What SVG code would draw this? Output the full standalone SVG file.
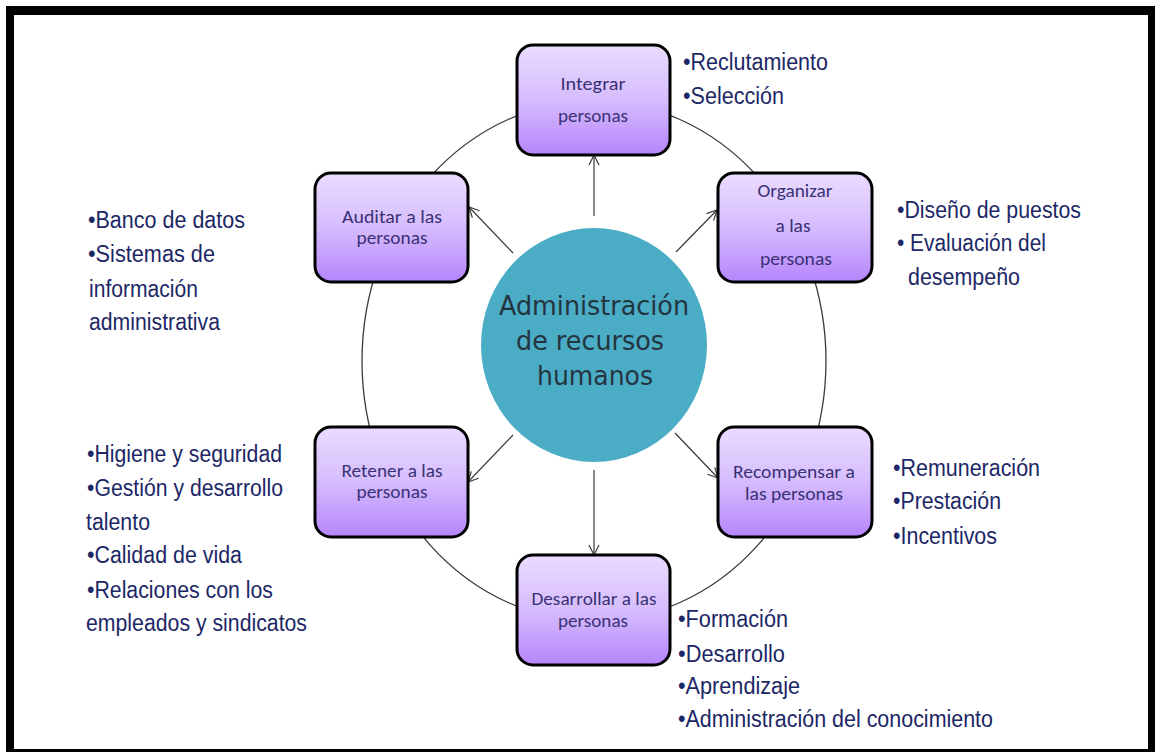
<svg xmlns="http://www.w3.org/2000/svg" width="1155" height="752" viewBox="0 0 1155 752">
  <defs>
    <linearGradient id="nodeFill" x1="0" y1="0" x2="0" y2="1">
      <stop offset="0" stop-color="#EADCFF"/>
      <stop offset="0.5" stop-color="#D6BCFE"/>
      <stop offset="1" stop-color="#B585FC"/>
    </linearGradient>
    <marker id="arrow" markerUnits="userSpaceOnUse" markerWidth="14" markerHeight="14" refX="11" refY="6" orient="auto">
      <path d="M1,1 L11,6 L1,11" fill="none" stroke="#3a3a3a" stroke-width="1.2"/>
    </marker>
    <style>
      .node rect { fill: url(#nodeFill); stroke: #000; stroke-width: 3; }
      .node text { font-family: Carlito, Lato, "Open Sans", sans-serif; font-size: 18.5px; fill: #3A3175; text-anchor: middle; }
      .list text { font-family: "Liberation Sans", Arial, sans-serif; font-size: 23px; fill: #1C2766; }
      .ring { fill: none; stroke: #3a3a3a; stroke-width: 1.3; }
      .conn line { stroke: #3a3a3a; stroke-width: 1.2; marker-end: url(#arrow); }
      .hub text { font-family: "DejaVu Sans", Verdana, sans-serif; font-size: 26px; fill: #24343E; text-anchor: middle; }
    </style>
  </defs>

  <!-- page frame -->
  <rect x="0" y="0" width="1155" height="752" fill="#fff"/>
  <rect x="6" y="6" width="1149" height="746" fill="#000"/>
  <rect x="14" y="15" width="1134" height="734" fill="#fff"/>

  <!-- connectors: outer cycle and spokes -->
  <g id="connectors">
    <ellipse class="ring" cx="594" cy="361" rx="232" ry="260"/>
    <g class="conn">
      <line x1="594" y1="216" x2="594" y2="155"/>
      <line x1="676" y1="252" x2="717" y2="210"/>
      <line x1="675" y1="433" x2="718" y2="478"/>
      <line x1="594" y1="470" x2="594" y2="555"/>
      <line x1="513" y1="435" x2="468" y2="482"/>
      <line x1="513" y1="253" x2="469" y2="207"/>
    </g>
  </g>

  <!-- central hub -->
  <g id="hub" class="hub">
    <ellipse cx="594" cy="345" rx="113" ry="117" fill="#4BACC6"/>
    <text x="594" y="315" textLength="190" lengthAdjust="spacingAndGlyphs">Administración</text>
    <text x="590" y="350" textLength="148" lengthAdjust="spacingAndGlyphs">de recursos</text>
    <text x="595" y="385" textLength="116" lengthAdjust="spacingAndGlyphs">humanos</text>
  </g>

  <!-- process nodes -->
  <g id="integrar" class="node">
    <rect x="517" y="45" width="153" height="110" rx="16"/>
    <text x="593" y="90" textLength="65" lengthAdjust="spacingAndGlyphs">Integrar</text>
    <text x="593" y="122" textLength="70" lengthAdjust="spacingAndGlyphs">personas</text>
  </g>
  <g id="organizar" class="node">
    <rect x="718" y="173" width="154" height="109" rx="16"/>
    <text x="795" y="197" textLength="75" lengthAdjust="spacingAndGlyphs">Organizar</text>
    <text x="793" y="232" textLength="35" lengthAdjust="spacingAndGlyphs">a las</text>
    <text x="796" y="265" textLength="72" lengthAdjust="spacingAndGlyphs">personas</text>
  </g>
  <g id="recompensar" class="node">
    <rect x="718" y="427" width="154" height="110" rx="16"/>
    <text x="794" y="478" textLength="122" lengthAdjust="spacingAndGlyphs">Recompensar a</text>
    <text x="794" y="500" textLength="98" lengthAdjust="spacingAndGlyphs">las personas</text>
  </g>
  <g id="desarrollar" class="node">
    <rect x="517" y="555" width="153" height="110" rx="16"/>
    <text x="594" y="605" textLength="125" lengthAdjust="spacingAndGlyphs">Desarrollar a las</text>
    <text x="593" y="627" textLength="70" lengthAdjust="spacingAndGlyphs">personas</text>
  </g>
  <g id="retener" class="node">
    <rect x="315" y="427" width="153" height="110" rx="16"/>
    <text x="392" y="477" textLength="101" lengthAdjust="spacingAndGlyphs">Retener a las</text>
    <text x="392" y="498" textLength="71" lengthAdjust="spacingAndGlyphs">personas</text>
  </g>
  <g id="auditar" class="node">
    <rect x="315" y="173" width="153" height="109" rx="16"/>
    <text x="392" y="223" textLength="100" lengthAdjust="spacingAndGlyphs">Auditar a las</text>
    <text x="392" y="244" textLength="71" lengthAdjust="spacingAndGlyphs">personas</text>
  </g>

  <!-- activity lists -->
  <g id="list-integrar" class="list">
    <text x="683" y="70" textLength="145" lengthAdjust="spacingAndGlyphs">•Reclutamiento</text>
    <text x="683" y="104" textLength="101" lengthAdjust="spacingAndGlyphs">•Selección</text>
  </g>
  <g id="list-organizar" class="list">
    <text x="897" y="218" textLength="184" lengthAdjust="spacingAndGlyphs">•Diseño de puestos</text>
    <text x="897" y="251" textLength="149" lengthAdjust="spacingAndGlyphs">• Evaluación del</text>
    <text x="908" y="285" textLength="112" lengthAdjust="spacingAndGlyphs">desempeño</text>
  </g>
  <g id="list-recompensar" class="list">
    <text x="893" y="476" textLength="147" lengthAdjust="spacingAndGlyphs">•Remuneración</text>
    <text x="893" y="509" textLength="108" lengthAdjust="spacingAndGlyphs">•Prestación</text>
    <text x="893" y="544" textLength="104" lengthAdjust="spacingAndGlyphs">•Incentivos</text>
  </g>
  <g id="list-desarrollar" class="list">
    <text x="678" y="627" textLength="110" lengthAdjust="spacingAndGlyphs">•Formación</text>
    <text x="678" y="662" textLength="107" lengthAdjust="spacingAndGlyphs">•Desarrollo</text>
    <text x="678" y="694" textLength="122" lengthAdjust="spacingAndGlyphs">•Aprendizaje</text>
    <text x="678" y="727" textLength="315" lengthAdjust="spacingAndGlyphs">•Administración del conocimiento</text>
  </g>
  <g id="list-retener" class="list">
    <text x="87" y="462" textLength="195" lengthAdjust="spacingAndGlyphs">•Higiene y seguridad</text>
    <text x="87" y="496" textLength="196" lengthAdjust="spacingAndGlyphs">•Gestión y desarrollo</text>
    <text x="86" y="530" textLength="64" lengthAdjust="spacingAndGlyphs">talento</text>
    <text x="87" y="563" textLength="155" lengthAdjust="spacingAndGlyphs">•Calidad de vida</text>
    <text x="87" y="598" textLength="186" lengthAdjust="spacingAndGlyphs">•Relaciones con los</text>
    <text x="86" y="631" textLength="221" lengthAdjust="spacingAndGlyphs">empleados y sindicatos</text>
  </g>
  <g id="list-auditar" class="list">
    <text x="88" y="228" textLength="157" lengthAdjust="spacingAndGlyphs">•Banco de datos</text>
    <text x="88" y="262" textLength="127" lengthAdjust="spacingAndGlyphs">•Sistemas de</text>
    <text x="89" y="297" textLength="109" lengthAdjust="spacingAndGlyphs">información</text>
    <text x="89" y="330" textLength="131" lengthAdjust="spacingAndGlyphs">administrativa</text>
  </g>
</svg>
